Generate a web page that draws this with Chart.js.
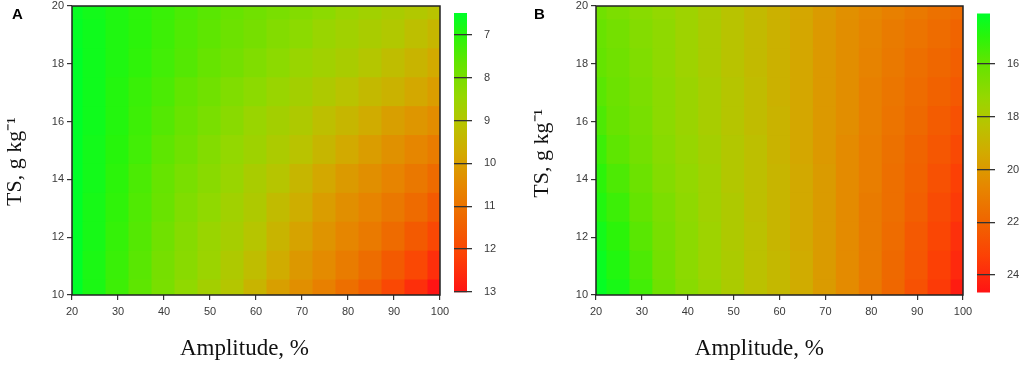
<!DOCTYPE html>
<html lang="en">
  <head>
    <meta charset="UTF-8" />
    <title>Amplitude vs TS response surfaces</title>
    <script src="https://cdn.jsdelivr.net/npm/chart.js"></script>
    <style>
      body { margin: 0; background: #fff; }
      #wrap { position: relative; width: 1023px; height: 371px; }
      #wrap canvas { position: absolute; top: 0; }
      .tag { position: absolute; font: bold 15px "Liberation Sans", Arial, sans-serif; color: #000; }
    </style>
  </head>
  <body>
    <div id="wrap">
      <canvas id="mainA" width="460" height="371" style="left:0px"></canvas>
      <canvas id="barA" width="70" height="371" style="left:440px"></canvas>
      <canvas id="mainB" width="475" height="371" style="left:511px"></canvas>
      <canvas id="barB" width="63" height="371" style="left:960px"></canvas>
      <div class="tag" style="left:12px;top:5px">A</div>
      <div class="tag" style="left:534px;top:5px">B</div>
    </div>
    <script>
      // grid of the surfaces
      const amplitude = [20, 25, 30, 35, 40, 45, 50, 55, 60, 65, 70, 75, 80, 85, 90, 95, 100];
      const tsLevels = [10, 11, 12, 13, 14, 15, 16, 17, 18, 19, 20];

      // panel A, one row per TS level (10 .. 20)
      const valuesA = [
        [6.5, 6.85, 7.25, 7.6, 8.0, 8.35, 8.7, 9.0, 9.5, 10.0, 10.35, 10.7, 11.1, 11.5, 12.0, 12.5, 13.0],
        [6.5, 6.85, 7.2, 7.55, 7.95, 8.25, 8.55, 8.9, 9.25, 9.7, 10.15, 10.45, 10.8, 11.15, 11.6, 12.0, 12.5],
        [6.5, 6.8, 7.15, 7.5, 7.85, 8.2, 8.5, 8.75, 9.05, 9.5, 9.9, 10.25, 10.55, 10.85, 11.2, 11.6, 12.0],
        [6.5, 6.8, 7.1, 7.45, 7.75, 8.1, 8.35, 8.65, 8.9, 9.3, 9.65, 10.05, 10.35, 10.6, 10.9, 11.2, 11.6],
        [6.5, 6.75, 7.05, 7.4, 7.7, 8.0, 8.25, 8.5, 8.8, 9.05, 9.45, 9.8, 10.1, 10.35, 10.6, 10.9, 11.2],
        [6.5, 6.75, 7.0, 7.3, 7.6, 7.85, 8.15, 8.4, 8.6, 8.85, 9.1, 9.45, 9.75, 10.05, 10.3, 10.55, 10.8],
        [6.5, 6.7, 6.95, 7.25, 7.5, 7.75, 8.0, 8.25, 8.5, 8.7, 8.9, 9.2, 9.45, 9.7, 10.0, 10.2, 10.4],
        [6.5, 6.7, 6.95, 7.2, 7.4, 7.65, 7.85, 8.1, 8.3, 8.5, 8.7, 8.9, 9.1, 9.35, 9.55, 9.8, 10.05],
        [6.5, 6.7, 6.9, 7.1, 7.3, 7.5, 7.7, 7.9, 8.1, 8.3, 8.5, 8.65, 8.8, 9.0, 9.25, 9.5, 9.75],
        [6.55, 6.7, 6.9, 7.05, 7.25, 7.45, 7.6, 7.8, 7.95, 8.15, 8.3, 8.5, 8.65, 8.8, 8.95, 9.2, 9.45],
        [6.6, 6.75, 6.9, 7.05, 7.2, 7.4, 7.55, 7.7, 7.85, 8.0, 8.15, 8.3, 8.5, 8.65, 8.8, 8.95, 9.1],
      ];

      // panel B, one row per TS level (10 .. 20)
      const valuesB = [
        [14.2, 14.6, 15.4, 16.3, 16.9, 17.4, 17.9, 18.4, 18.8, 19.3, 19.9, 20.5, 21.2, 21.9, 22.7, 23.5, 24.4],
        [14.3, 14.8, 15.6, 16.4, 17.0, 17.5, 17.9, 18.4, 18.8, 19.3, 19.9, 20.5, 21.1, 21.8, 22.5, 23.3, 24.0],
        [14.5, 15.0, 15.8, 16.5, 17.0, 17.5, 18.0, 18.4, 18.9, 19.4, 19.9, 20.5, 21.1, 21.7, 22.4, 23.1, 23.8],
        [14.8, 15.3, 16.0, 16.6, 17.1, 17.6, 18.0, 18.5, 18.9, 19.4, 19.9, 20.5, 21.1, 21.6, 22.2, 22.9, 23.5],
        [15.0, 15.6, 16.2, 16.8, 17.2, 17.6, 18.1, 18.5, 18.9, 19.4, 19.9, 20.5, 21.0, 21.6, 22.1, 22.7, 23.3],
        [15.3, 15.9, 16.4, 16.9, 17.3, 17.7, 18.1, 18.5, 19.0, 19.5, 20.0, 20.5, 21.0, 21.5, 22.0, 22.5, 23.0],
        [15.6, 16.1, 16.5, 17.0, 17.4, 17.8, 18.2, 18.6, 19.0, 19.5, 20.0, 20.4, 20.9, 21.4, 21.8, 22.3, 22.7],
        [15.8, 16.2, 16.6, 17.0, 17.4, 17.8, 18.2, 18.6, 19.1, 19.5, 20.0, 20.4, 20.9, 21.3, 21.7, 22.1, 22.4],
        [16.0, 16.3, 16.7, 17.1, 17.5, 17.9, 18.3, 18.7, 19.1, 19.5, 20.0, 20.4, 20.8, 21.2, 21.6, 21.9, 22.2],
        [16.1, 16.4, 16.8, 17.1, 17.5, 17.9, 18.3, 18.7, 19.1, 19.5, 20.0, 20.4, 20.7, 21.1, 21.4, 21.7, 22.0],
        [16.3, 16.6, 16.9, 17.2, 17.5, 17.9, 18.3, 18.7, 19.1, 19.5, 19.9, 20.3, 20.6, 20.9, 21.2, 21.5, 21.7],
      ];

      // colour key ranges and labels
      const keyRangeA = [6.5, 13];
      const keyRangeB = [14.1, 24.65];
      const keyTicksA = [7, 8, 9, 10, 11, 12, 13];
      const keyTicksB = [16, 18, 20, 22, 24];

      const xTicks = [20, 30, 40, 50, 60, 70, 80, 90, 100];
      const yTicks = [10, 12, 14, 16, 18, 20];

      // green -> yellow -> red ramp
      const ramp = [
        [0.0, [0, 255, 40]],
        [0.08, [40, 245, 10]],
        [0.18, [100, 228, 0]],
        [0.3, [150, 215, 0]],
        [0.4, [185, 195, 0]],
        [0.5, [210, 170, 0]],
        [0.62, [230, 135, 0]],
        [0.75, [240, 100, 0]],
        [0.87, [252, 65, 5]],
        [1.0, [255, 20, 20]],
      ];

      const tickFont = { family: "'Liberation Sans', Arial, sans-serif", size: 11, lineHeight: 1 };
      const xTitleFont = { family: "'Liberation Serif', 'Times New Roman', serif", size: 23 };
      const yTitleFont = { family: "'Liberation Serif', 'Times New Roman', serif", size: 22 };
      const nb = (n) => "\u00a0".repeat(n);

      function rampColor(v, range) {
        let t = (v - range[0]) / (range[1] - range[0]);
        t = Math.min(1, Math.max(0, t));
        for (let i = 1; i < ramp.length; i++) {
          if (t <= ramp[i][0]) {
            const [t0, c0] = ramp[i - 1];
            const [t1, c1] = ramp[i];
            const f = (t - t0) / (t1 - t0);
            const c = c0.map((a, k) => Math.round(a + (c1[k] - a) * f));
            return `rgb(${c[0]},${c[1]},${c[2]})`;
          }
        }
        return "rgb(255,20,20)";
      }

      const framePlugin = {
        id: "frame",
        afterDraw(chart) {
          const { ctx, chartArea: a } = chart;
          ctx.save();
          ctx.strokeStyle = "#222";
          ctx.lineWidth = 1.5;
          ctx.strokeRect(a.left, a.top, a.right - a.left, a.bottom - a.top);
          ctx.restore();
        },
      };

      function drawSurface(id, values, range, opts) {
        const datasets = tsLevels.map((ts, r) => ({
          data: amplitude.map((a) => ({ x: a, y: [ts - 0.5, ts + 0.5] })),
          backgroundColor: values[r].map((v) => rampColor(v, range)),
          borderWidth: 0,
          inflateAmount: 1,
          grouped: false,
          barPercentage: 1,
          categoryPercentage: 1,
        }));

        new Chart(document.getElementById(id), {
          type: "bar",
          data: { datasets },
          options: {
            responsive: false,
            animation: false,
            layout: { padding: { top: 6, right: opts.padRight, left: 0, bottom: 0 } },
            plugins: { legend: { display: false }, tooltip: { enabled: false } },
            scales: {
              x: {
                type: "linear",
                min: 20,
                max: 100,
                offset: false,
                afterBuildTicks: (s) => { s.ticks = xTicks.map((v) => ({ value: v })); },
                afterFit: (s) => { s.height = 76; },
                grid: { offset: false, drawOnChartArea: false, tickLength: 5, color: "#333", lineWidth: 1.2 },
                border: { display: false },
                ticks: { font: tickFont, color: "#3a3a3a", padding: 6, maxRotation: 0 },
                title: {
                  display: true,
                  text: "Amplitude, %" + nb(opts.xShift),
                  font: xTitleFont,
                  color: "#111",
                  padding: { top: 0, bottom: 8 },
                },
              },
              y: {
                type: "linear",
                min: 10,
                max: 20,
                afterBuildTicks: (s) => { s.ticks = yTicks.map((v) => ({ value: v })); },
                afterFit: (s) => {
                  s.width = opts.yWidth;
                  s.paddingTop = 0;
                  s.paddingBottom = 0;
                },
                grid: { drawOnChartArea: false, tickLength: 5, color: "#333", lineWidth: 1.2 },
                border: { display: false },
                ticks: { font: tickFont, color: "#3a3a3a", padding: 3 },
                title: {
                  display: true,
                  text: "TS, g kg\u207B\u00B9" + nb(opts.yShift),
                  font: yTitleFont,
                  color: "#111",
                  padding: { top: opts.yTitlePad, bottom: 0 },
                },
              },
            },
          },
          plugins: [framePlugin],
        });
      }

      function drawKey(id, range, ticks, lo, hi, padLeft, axisWidth) {
        new Chart(document.getElementById(id), {
          type: "bar",
          data: {
            labels: ["key"],
            datasets: [
              {
                data: [[range[0], range[1]]],
                borderWidth: 0,
                barPercentage: 1,
                categoryPercentage: 1,
                backgroundColor: (ctx) => {
                  const chart = ctx.chart;
                  if (!chart.chartArea) return "#ccc";
                  const ys = chart.scales.y;
                  const g = chart.ctx.createLinearGradient(0, ys.getPixelForValue(range[0]), 0, ys.getPixelForValue(range[1]));
                  ramp.forEach(([t, c]) => g.addColorStop(t, `rgb(${c[0]},${c[1]},${c[2]})`));
                  return g;
                },
              },
            ],
          },
          options: {
            responsive: false,
            animation: false,
            layout: { padding: { top: 6, bottom: 76, left: padLeft, right: 0 } },
            plugins: { legend: { display: false }, tooltip: { enabled: false } },
            scales: {
              x: { display: false },
              y: {
                position: "right",
                reverse: true,
                min: lo,
                max: hi,
                afterBuildTicks: (s) => { s.ticks = ticks.map((v) => ({ value: v })); },
                afterFit: (s) => {
                  s.width = axisWidth;
                  s.paddingTop = 0;
                  s.paddingBottom = 0;
                },
                grid: { z: 1, drawOnChartArea: true, tickLength: 5, color: "#333", lineWidth: 1.3 },
                border: { display: false },
                ticks: { font: tickFont, color: "#3a3a3a", padding: 12 },
              },
            },
          },
        });
      }

      drawSurface("mainA", valuesA, keyRangeA, { padRight: 20, yWidth: 72, yTitlePad: 2, xShift: 4, yShift: 4 });
      drawSurface("mainB", valuesB, keyRangeB, { padRight: 23, yWidth: 85, yTitlePad: 18, xShift: 7, yShift: 1 });
      drawKey("barA", keyRangeA, keyTicksA, 6.33, 13.07, 14, 43);
      drawKey("barB", keyRangeB, keyTicksB, 13.8, 24.76, 17, 33);
    </script>
  </body>
</html>
